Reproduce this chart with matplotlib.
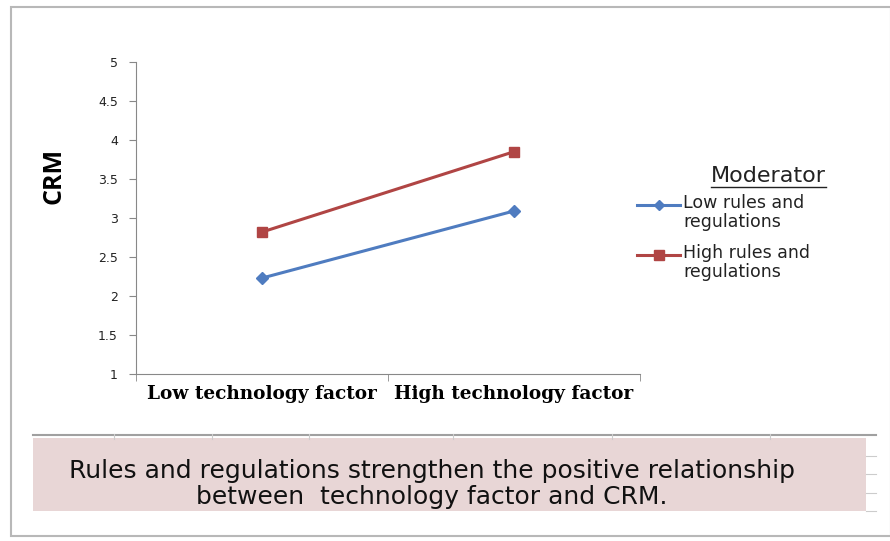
import numpy as np
import matplotlib.pyplot as plt
from matplotlib.lines import Line2D
from matplotlib.patches import Rectangle

categories = ["Low technology factor", "High technology factor"]
low_rules = [2.23, 3.09]
high_rules = [2.82, 3.85]
series_labels = ["Low rules and\nregulations", "High rules and\nregulations"]
y_ticks = [1, 1.5, 2, 2.5, 3, 3.5, 4, 4.5, 5]
caption = "Rules and regulations strengthen the positive relationship\nbetween  technology factor and CRM."

blue = "#4F7CC0"
red = "#B04544"

W, H = 890, 541
fig = plt.figure(figsize=(W / 100, H / 100), dpi=100)

def px(x, y):
    # pixel coords (top-left origin) -> figure fraction
    return x / W, 1 - y / H

# outer frame
fig.add_artist(Rectangle(px(11, 536), (W - 10) / W, (536 - 7) / H, transform=fig.transFigure,
                         fill=False, edgecolor="#b8b8b8", lw=1.5))

x0, y0 = px(136, 374)
ax = fig.add_axes([x0, y0, (640 - 136) / W, (374 - 62) / H])
xs = np.arange(len(categories))
ax.plot(xs, low_rules, color=blue, lw=2.2, marker="D", ms=6.5)
ax.plot(xs, high_rules, color=red, lw=2.2, marker="s", ms=7.5)

ax.set_xlim(-0.5, 1.5)
ax.set_ylim(1, 5)
ax.set_yticks(y_ticks)
ax.set_yticklabels(["%g" % v for v in y_ticks], fontsize=9, family="DejaVu Sans", color="#222222")
ax.set_xticks(xs)
ax.set_xticklabels(categories, fontsize=13.3, family="DejaVu Serif", fontweight="bold")
ax.set_xticks([-0.5, 0.5, 1.5], minor=True)
ax.tick_params(axis="x", which="major", length=0, pad=8)
ax.tick_params(axis="x", which="minor", length=5, color="#888888")
ax.tick_params(axis="y", length=5, color="#888888", pad=8)
for s in ["top", "right"]:
    ax.spines[s].set_visible(False)
for s in ["left", "bottom"]:
    ax.spines[s].set_color("#888888")

fig.text(*px(54, 176), "CRM", rotation=90, ha="center", va="center",
         fontsize=18, fontweight="bold", family="Open Sans")

# legend, drawn by hand so the handle sits on the first text line
for i, (lab, col, mk, ms) in enumerate(zip(series_labels, [blue, red], ["D", "s"], [5, 6.5])):
    ly = 205 + i * 50
    fig.add_artist(Line2D([637 / W, 680 / W], [1 - ly / H] * 2, transform=fig.transFigure,
                          color=col, lw=2.2))
    fig.add_artist(Line2D([658.5 / W], [1 - ly / H], transform=fig.transFigure,
                          color=col, marker=mk, ms=ms, lw=0))
    fig.text(*px(683, ly - 11), lab, ha="left", va="top", fontsize=12.5, family="DejaVu Sans",
             color="#222222", linespacing=1.1)

title = fig.text(*px(768, 176), "Moderator", ha="center", va="center", fontsize=16,
                 family="DejaVu Sans", color="#222222")
fig.canvas.draw()
bb = title.get_window_extent().transformed(fig.transFigure.inverted())
fig.add_artist(Line2D([bb.x0, bb.x1], [1 - 187 / H] * 2, transform=fig.transFigure,
                      color="#222222", lw=1))

# caption box with spreadsheet grid lines
fig.add_artist(Rectangle(px(33, 511), (866 - 33) / W, (511 - 438) / H, transform=fig.transFigure,
                         facecolor="#E8D6D6", edgecolor="none"))
fig.add_artist(Line2D([33 / W, 876 / W], [1 - 435 / H] * 2, transform=fig.transFigure,
                      color="#a0a0a0", lw=1.5))
for gx in [114, 212, 309, 453, 612, 770]:
    fig.add_artist(Line2D([gx / W] * 2, [1 - 434 / H, 1 - 439 / H], transform=fig.transFigure,
                          color="#cccccc", lw=0.8))
for gy in [456, 474, 493, 511]:
    fig.add_artist(Line2D([866 / W, 876 / W], [1 - gy / H] * 2, transform=fig.transFigure,
                          color="#cccccc", lw=0.8))
fig.text(*px(432, 484), caption, ha="center", va="center", fontsize=18, family="DejaVu Sans",
         linespacing=1.1, color="#111111")

fig.savefig("out.png", dpi=100)
